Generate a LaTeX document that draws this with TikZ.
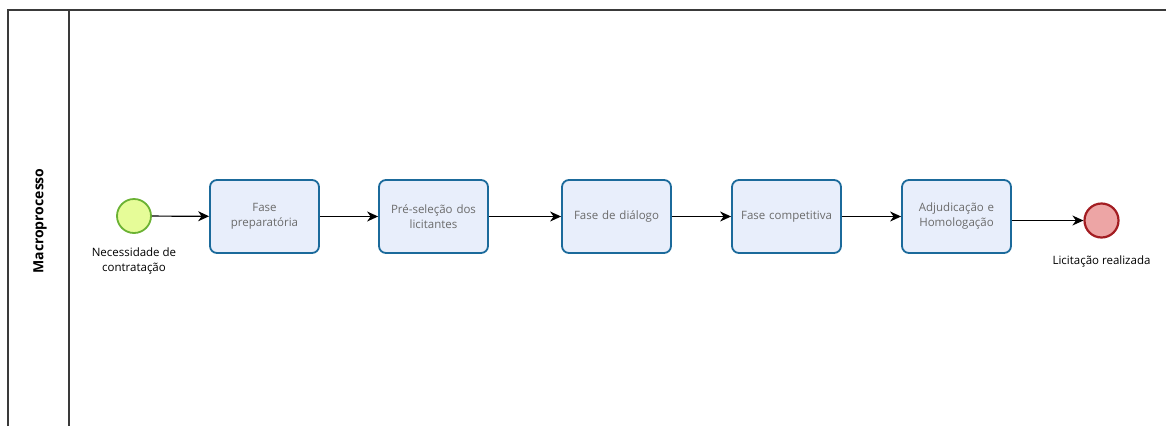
\documentclass[tikz,border=0pt]{standalone}
\usepackage{fontspec}
\setmainfont{Open Sans}
\usetikzlibrary{arrows.meta}
\definecolor{taskfill}{HTML}{E8EEFB}
\definecolor{taskdraw}{HTML}{1B6A9B}
\definecolor{taskText}{HTML}{6B6B6B}
\definecolor{startfill}{HTML}{E6FC98}
\definecolor{startdraw}{HTML}{6BB233}
\definecolor{endfill}{HTML}{EDA5A5}
\definecolor{enddraw}{HTML}{A31D22}
\definecolor{frame}{HTML}{3A3A3A}
\tikzset{
  task/.style={draw=taskdraw, fill=taskfill, line width=1.8pt, rounded corners=7pt,
    minimum width=109pt, minimum height=73pt, align=center, text=taskText,
    font=\fontsize{11.5}{15}\selectfont, inner sep=2pt, text width=104pt},
  startev/.style={circle, draw=startdraw, fill=startfill, line width=1.8pt, minimum size=34pt, inner sep=0pt},
  endev/.style={circle, draw=enddraw, fill=endfill, line width=2.2pt, minimum size=34pt, inner sep=0pt},
  lbl/.style={align=center, font=\fontsize{11.5}{15}\selectfont, text=black},
  flow/.style={line width=1.2pt, -{Stealth[length=11pt,width=10pt,inset=3.5pt]}},
}
\begin{document}
\begin{tikzpicture}[x=1pt,y=-1pt]
\useasboundingbox (0,0) rectangle (1166,426);
\draw[frame, line width=1.4pt] (8,426) -- (8,10) -- (1166,10);
\draw[frame, line width=1.4pt] (69,10) -- (69,426);
\node[rotate=90, font=\bfseries\fontsize{14}{16}\selectfont] (lane) at (40,221) {Macroprocesso};

\node[startev] (s) at (134,216) {};
\node[lbl, anchor=north] (sl) at (134,244) {Necessidade de\\contratação};
\node[task] (t1) at (264.5,216.5) {Fase\\preparatória};
\node[task] (t2) at (433.5,216.5) {Pré-seleção dos\\licitantes};
\node[task] (t3) at (616.5,216.5) {Fase de diálogo};
\node[task] (t4) at (786.5,216.5) {Fase competitiva};
\node[task] (t5) at (956.5,216.5) {Adjudicação e\\Homologação};
\node[endev] (e) at (1101.5,220.5) {};
\node[lbl, anchor=north] (el) at (1101.5,252) {Licitação realizada};

\draw[flow] (s) -- (t1);
\draw[flow] (t1) -- (t2);
\draw[flow] (t2) -- (t3);
\draw[flow] (t3) -- (t4);
\draw[flow] (t4) -- (t5);
\draw[flow] (t5.east |- e) -- (e);
\end{tikzpicture}
\end{document}
